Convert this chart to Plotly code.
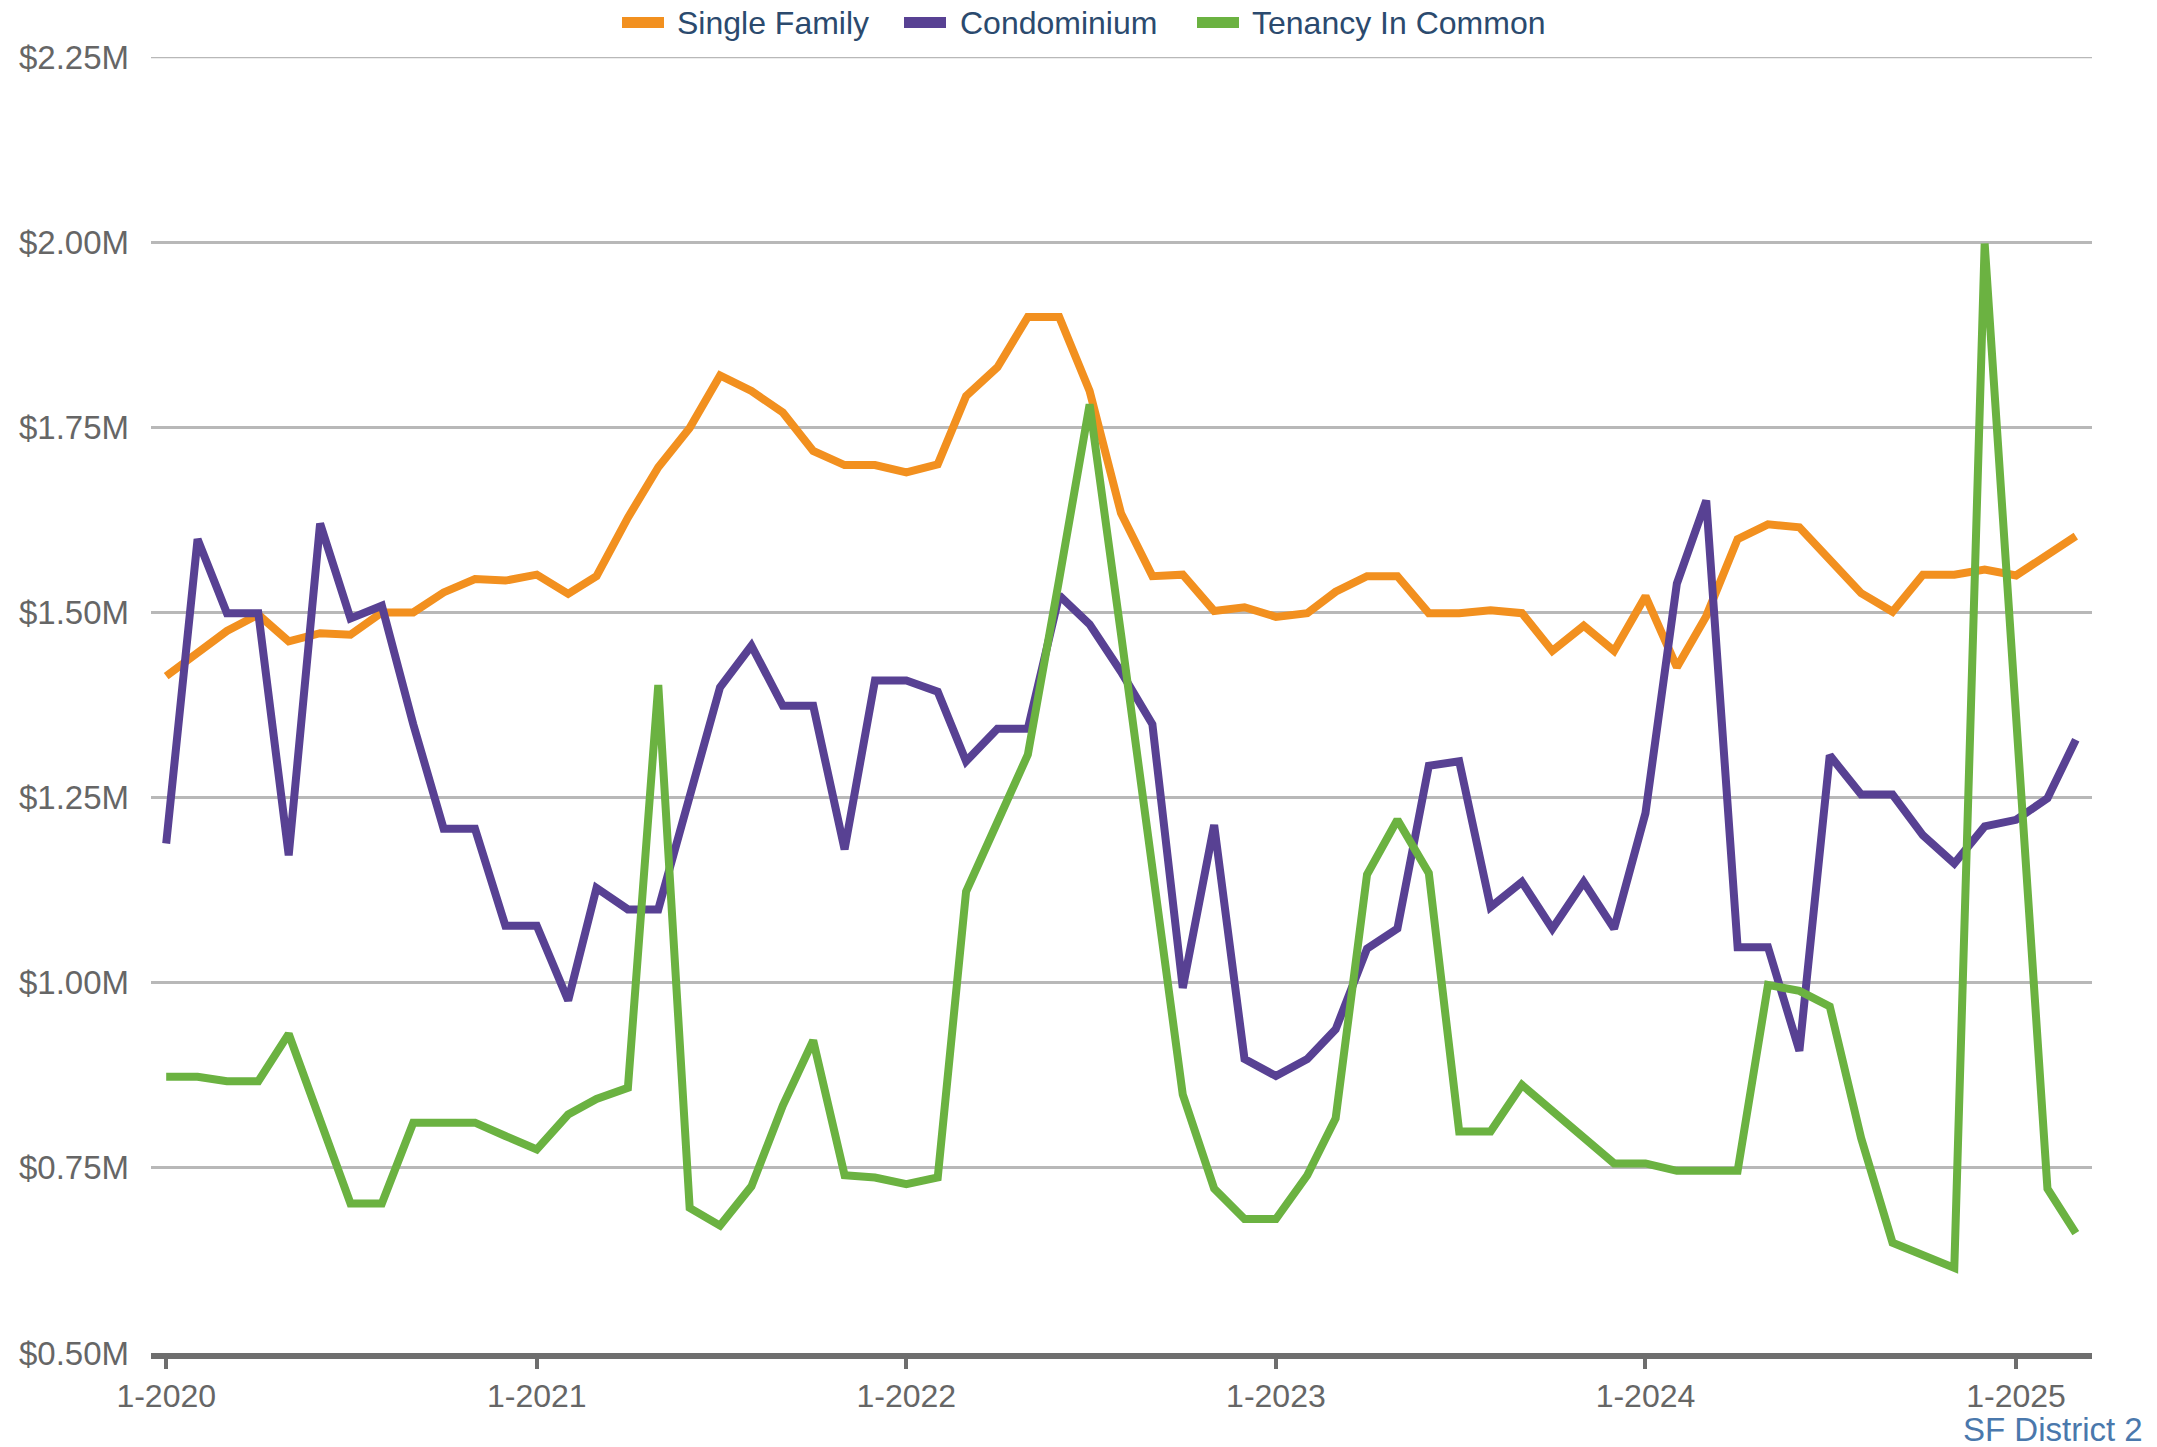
"""Median sale price by property type, SF District 2."""

import pandas as pd
import plotly.graph_objects as go

# monthly, Jan 2020 .. Mar 2025 (values in $M)
months = pd.date_range("2020-01-01", periods=63, freq="MS")

single_family = [
    1.414, 1.446, 1.475, 1.497, 1.461, 1.472, 1.470, 1.500, 1.500, 1.527, 1.545, 1.543,
    1.551, 1.525, 1.549, 1.628, 1.696, 1.749, 1.820, 1.799, 1.770, 1.718, 1.699, 1.699,
    1.689, 1.700, 1.792, 1.831, 1.899, 1.899, 1.799, 1.634, 1.549, 1.551, 1.502, 1.507,
    1.494, 1.499, 1.528, 1.549, 1.549, 1.499, 1.499, 1.503, 1.499, 1.448, 1.482, 1.448,
    1.522, 1.426, 1.495, 1.599, 1.619, 1.615, 1.570, 1.526, 1.501, 1.551, 1.551, 1.558,
    1.550, 1.579, 1.603,
]
condominium = [
    1.188, 1.599, 1.499, 1.499, 1.172, 1.620, 1.492, 1.509, 1.349, 1.208, 1.208, 1.077,
    1.077, 0.976, 1.128, 1.099, 1.099, 1.249, 1.399, 1.455, 1.374, 1.374, 1.180, 1.408,
    1.408, 1.393, 1.299, 1.343, 1.343, 1.523, 1.484, 1.420, 1.349, 0.993, 1.213, 0.897,
    0.874, 0.897, 0.937, 1.046, 1.073, 1.293, 1.299, 1.102, 1.136, 1.073, 1.136, 1.073,
    1.229, 1.539, 1.651, 1.048, 1.048, 0.908, 1.307, 1.254, 1.254, 1.199, 1.161, 1.211,
    1.220, 1.249, 1.328,
]
tenancy_in_common = [
    0.873, 0.873, 0.867, 0.867, 0.931, 0.817, 0.702, 0.702, 0.811, 0.811, 0.811, 0.793,
    0.775, 0.822, 0.843, 0.858, 1.402, 0.696, 0.672, 0.725, 0.834, 0.922, 0.740, 0.737,
    0.728, 0.737, 1.123, 1.217, 1.308, 1.545, 1.781, 1.471, 1.160, 0.849, 0.722, 0.681,
    0.681, 0.740, 0.817, 1.146, 1.220, 1.148, 0.799, 0.799, 0.862, 0.827, 0.791, 0.756,
    0.756, 0.746, 0.746, 0.746, 0.997, 0.989, 0.968, 0.790, 0.649, 0.632, 0.615, 1.998,
    1.370, 0.722, 0.662,
]

x_tick_vals = ["2020-01-01", "2021-01-01", "2022-01-01", "2023-01-01", "2024-01-01", "2025-01-01"]
x_tick_text = ["1-2020", "1-2021", "1-2022", "1-2023", "1-2024", "1-2025"]
y_tick_vals = [0.5, 0.75, 1.0, 1.25, 1.5, 1.75, 2.0, 2.25]
y_tick_text = ["$0.50M", "$0.75M", "$1.00M", "$1.25M", "$1.50M", "$1.75M", "$2.00M", "$2.25M"]

FONT = "Liberation Sans, Arial, sans-serif"
series = [
    ("Single Family", single_family, "#F2901F"),
    ("Condominium", condominium, "#584193"),
    ("Tenancy In Common", tenancy_in_common, "#6BB241"),
]

# page geometry; the html body adds an 8px offset, margins compensate for it
W, H = 2157, 1447
L, R, T, B = 143, 73, 49, 102
OFF = 8
PW, PH = W - L - R, H - T - B


def px_x(X):
    return (X - OFF - L) / PW


def px_y(Y):
    return (H - B - (Y - OFF)) / PH


fig = go.Figure()
for name, values, color in series:
    fig.add_trace(
        go.Scatter(
            x=months,
            y=values,
            mode="lines",
            name=name,
            line=dict(color=color, width=8),
        )
    )

# top gridline sits on the plot edge, plotly skips it
fig.add_shape(
    type="line", xref="paper", yref="y", x0=0, x1=1, y0=2.25, y1=2.25,
    line=dict(color="#B8B8B8", width=2.5), layer="below",
)

# hand-placed legend: wide flat swatches like the original
legend_x = [(622, 677), (904, 960), (1197, 1252)]
for (name, _, color), (sw_x, txt_x) in zip(series, legend_x):
    fig.add_shape(
        type="rect", xref="paper", yref="paper",
        x0=px_x(sw_x), x1=px_x(sw_x + 42), y0=px_y(28), y1=px_y(17),
        fillcolor=color, line=dict(width=0),
    )
    fig.add_annotation(
        text=name, xref="paper", yref="paper",
        x=px_x(txt_x - 2), y=px_y(23), xanchor="left", yanchor="middle",
        showarrow=False, font=dict(family=FONT, size=32, color="#2B4A6E"),
    )

fig.add_annotation(
    text="SF District 2",
    xref="paper",
    yref="paper",
    x=px_x(2145),
    y=px_y(1429),
    xanchor="right",
    yanchor="middle",
    showarrow=False,
    font=dict(family=FONT, size=33, color="#4A78AC"),
)

fig.update_layout(
    width=W,
    height=H,
    margin=dict(l=L, r=R, t=T, b=B, autoexpand=False),
    paper_bgcolor="white",
    plot_bgcolor="white",
    font=dict(family=FONT, size=32, color="#666666"),
    showlegend=False,
)

fig.update_xaxes(
    range=["2019-12-17", "2025-03-17"],
    tickvals=x_tick_vals,
    ticktext=x_tick_text,
    showgrid=False,
    zeroline=False,
    showline=True,
    linecolor="#6E6E6E",
    linewidth=6,
    ticks="outside",
    ticklen=10,
    tickwidth=4,
    tickcolor="#6E6E6E",
    automargin=False,
    tickfont=dict(size=32, color="#666666"),
)
fig.update_yaxes(
    range=[0.5, 2.25],
    tickvals=y_tick_vals,
    ticktext=y_tick_text,
    showgrid=True,
    gridcolor="#B8B8B8",
    gridwidth=2.5,
    zeroline=False,
    showline=False,
    ticks="",
    ticklabelstandoff=21,
    automargin=False,
    tickfont=dict(size=33, color="#666666"),
)

fig.write_html("out.html")
